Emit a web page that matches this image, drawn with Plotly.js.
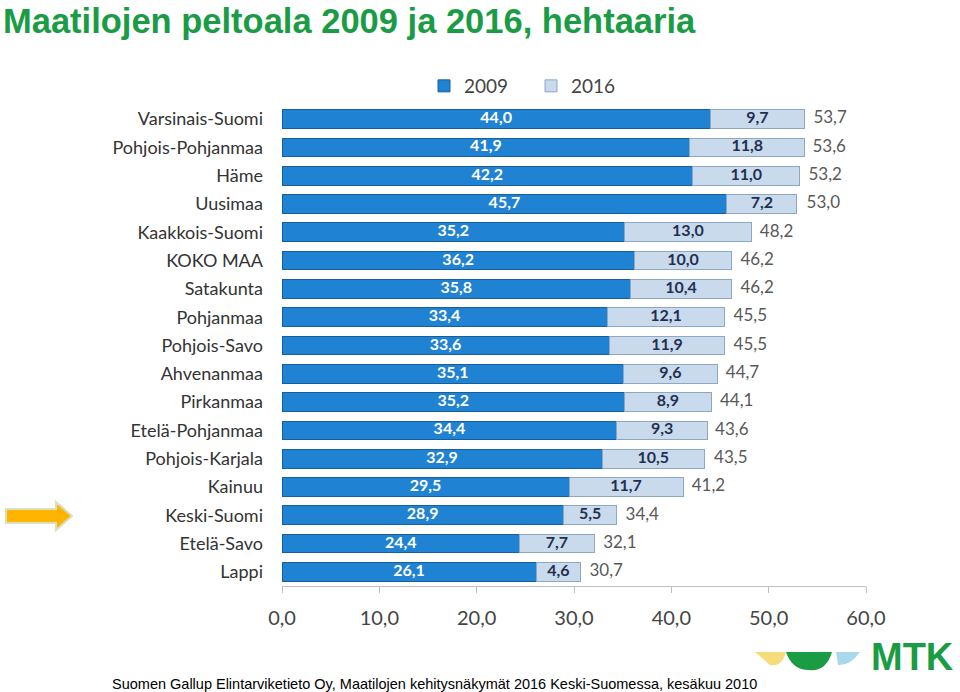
<!DOCTYPE html>
<html>
<head>
<meta charset="utf-8">
<script src="https://cdn.plot.ly/plotly-3.0.1.min.js"></script>
<style>
html,body{margin:0;padding:0;background:#fff;}
#chart{width:960px;height:692px;}
</style>
</head>
<body>
<div id="chart"></div>
<script>
var regions = ["Varsinais-Suomi","Pohjois-Pohjanmaa","Häme","Uusimaa","Kaakkois-Suomi","KOKO MAA","Satakunta","Pohjanmaa","Pohjois-Savo","Ahvenanmaa","Pirkanmaa","Etelä-Pohjanmaa","Pohjois-Karjala","Kainuu","Keski-Suomi","Etelä-Savo","Lappi"];
var area2009 = [44.0,41.9,42.2,45.7,35.2,36.2,35.8,33.4,33.6,35.1,35.2,34.4,32.9,29.5,28.9,24.4,26.1];
var growth2016 = [9.7,11.8,11.0,7.2,13.0,10.0,10.4,12.1,11.9,9.6,8.9,9.3,10.5,11.7,5.5,7.7,4.6];
var total2016 = [53.7,53.6,53.2,53.0,48.2,46.2,46.2,45.5,45.5,44.7,44.1,43.6,43.5,41.2,34.4,32.1,30.7];
var tickVals = [0,10,20,30,40,50,60];

function fi(v){ return v.toFixed(1).replace('.', ','); }

var fontCal = "Lato, 'Open Sans', sans-serif";

// pixel -> paper helpers (plot area x: 282..866, paper y: 50..586)
function px(x){ return ((x-282)/584); }
function py(y){ return ((586-y)/536); }

var t1 = {
  type:'bar', orientation:'h', name:'2009',
  y: regions, x: area2009, textposition:'none',
  marker:{color:'#1f82d2', line:{color:'#155f9f', width:1}},
  hoverinfo:'skip'
};
var t2 = {
  type:'bar', orientation:'h', name:'2016',
  y: regions, x: growth2016, textposition:'none',
  marker:{color:'#c9daec', line:{color:'#8ea8c4', width:1}},
  hoverinfo:'skip'
};
var lab2009 = {
  type:'scatter', mode:'text', showlegend:false,
  y: regions, x: area2009.map(function(v){return v/2;}),
  text: area2009.map(fi), textposition:'middle center',
  textfont:{family:fontCal, size:16, color:'#ffffff', weight:'bold'},
  hoverinfo:'skip', cliponaxis:false
};
var lab2016 = {
  type:'scatter', mode:'text', showlegend:false,
  y: regions, x: area2009.map(function(v,i){return v + growth2016[i]/2;}),
  text: growth2016.map(fi), textposition:'middle center',
  textfont:{family:fontCal, size:16, color:'#1f3050', weight:'bold'},
  hoverinfo:'skip', cliponaxis:false
};
var labTot = {
  type:'scatter', mode:'text', showlegend:false,
  y: regions, x: total2016,
  text: total2016.map(function(v){return '\u00a0\u00a0' + fi(v);}), textposition:'middle right',
  textfont:{family:fontCal, size:17, color:'#595959'},
  hoverinfo:'skip', cliponaxis:false
};

function path(pts){
  var s = '';
  pts.forEach(function(p,i){
    if (p[0] === 'Q') s += ' Q '+px(p[1]).toFixed(4)+','+py(p[2]).toFixed(4)+' '+px(p[3]).toFixed(4)+','+py(p[4]).toFixed(4);
    else s += (i===0?'M ':' L ')+px(p[0]).toFixed(4)+','+py(p[1]).toFixed(4);
  });
  return s + ' Z';
}

var layout = {
  width:960, height:692,
  paper_bgcolor:'#ffffff', plot_bgcolor:'#ffffff',
  margin:{l:282, r:94, t:50, b:106},
  barmode:'stack', bargap:0.34,
  separators:', ',
  showlegend:true,
  legend:{orientation:'h', x:px(424), y:py(86), xanchor:'left', yanchor:'middle',
    font:{family:fontCal, size:19, color:'#444'}, itemwidth:30, traceorder:'normal',
    entrywidth:62, bgcolor:'rgba(0,0,0,0)'},
  xaxis:{range:[0,60], tickvals:tickVals, ticktext:tickVals.map(fi),
    showgrid:false, zeroline:false, showline:true, linecolor:'#bfbfbf', linewidth:1,
    ticks:'outside', ticklen:6, tickcolor:'#bfbfbf',
    tickfont:{family:fontCal, size:20, color:'#444'}, ticklabelstandoff:8},
  yaxis:{range:[regions.length-0.5, -0.5], type:'category', domain:[0, 481/536],
    showgrid:false, zeroline:false, showline:false,
    ticks:'', tickfont:{family:fontCal, size:18, color:'#333'}, ticklabelstandoff:18},
  annotations:[
    {xref:'paper', yref:'paper', x:px(1), y:py(0), xanchor:'left', yanchor:'top',
      text:'<b>Maatilojen peltoala 2009 ja 2016, hehtaaria</b>', showarrow:false,
      font:{family:'Liberation Sans, Arial, sans-serif', size:34.5, color:'#1a9c45'}},
    {xref:'paper', yref:'paper', x:px(110), y:py(684), xanchor:'left', yanchor:'middle',
      text:'Suomen Gallup Elintarviketieto Oy, Maatilojen kehitysnäkymät 2016 Keski-Suomessa, kesäkuu 2010', showarrow:false,
      font:{family:'Liberation Sans, Arial, sans-serif', size:14.5, color:'#000'}},
    {xref:'paper', yref:'paper', x:px(869), y:py(657), xanchor:'left', yanchor:'middle',
      text:'<b>MTK</b>', showarrow:false,
      font:{family:'Liberation Sans, Arial, sans-serif', size:38, color:'#1a9c45'}}
  ],
  shapes:[
    {type:'path', xref:'paper', yref:'paper', layer:'above',
      path: path([[6,509],[56,509],[56,502],[72,516],[56,530],[56,523],[6,523]]),
      fillcolor:'#ffb400', line:{color:'#d9dfc0', width:2}},
    {type:'path', xref:'paper', yref:'paper', layer:'above',
      path: path([[755,652],[786,652],['Q',782,667,770,665]]),
      fillcolor:'#f7dc7a', line:{width:0}},
    {type:'path', xref:'paper', yref:'paper', layer:'above',
      path: path([[786,652],[832,652],['Q',826,672,809,670],['Q',792,670,786,652]]),
      fillcolor:'#1a9c45', line:{width:0}},
    {type:'path', xref:'paper', yref:'paper', layer:'above',
      path: path([[836,652],[860,652],['Q',850,666,838,665]]),
      fillcolor:'#a9d8ec', line:{width:0}}
  ]
};

Plotly.newPlot('chart', [t1,t2,lab2009,lab2016,labTot], layout, {displayModeBar:false, staticPlot:true});
</script>
</body>
</html>
